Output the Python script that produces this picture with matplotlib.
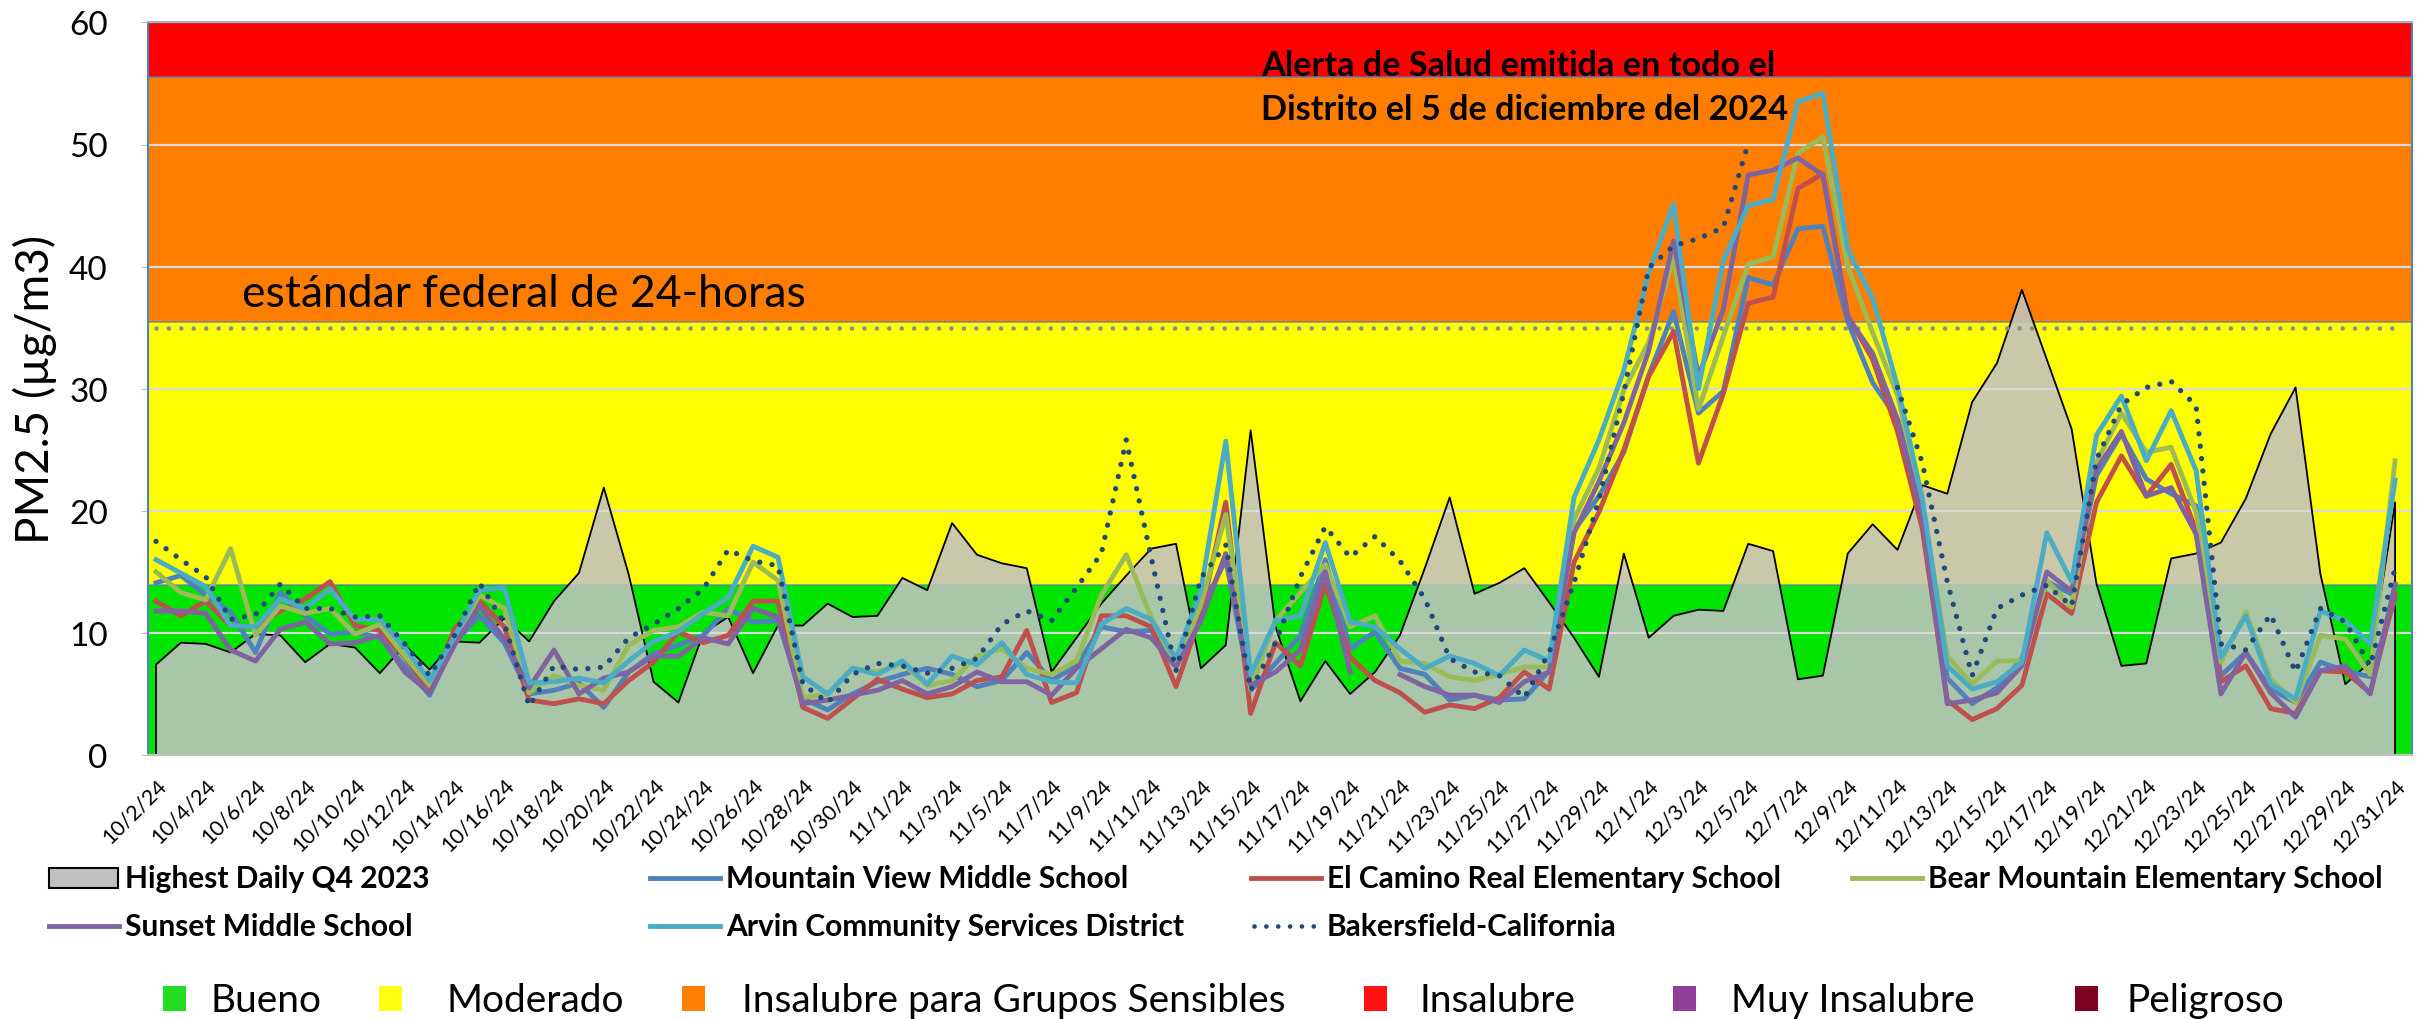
import numpy as np
import pandas as pd
import matplotlib
matplotlib.use("Agg")
import matplotlib.pyplot as plt
from matplotlib.lines import Line2D
from matplotlib.patches import Rectangle

plt.rcParams['font.family'] = ['Lato', 'DejaVu Sans']

# ---------------- data ----------------
dates = pd.date_range("2024-10-02", "2024-12-31", freq="D")
date_labels = [f"{d.month}/{d.day}/24" for d in dates]

highest_q4_2023 = [
    7.4, 9.2, 9.1, 8.4, 9.9, 9.8, 7.6, 9.1, 8.8, 6.7,
    9.0, 7.0, 9.3, 9.2, 11.2, 9.3, 12.6, 14.9, 21.9, 14.8,
    6.0, 4.3, 10.0, 11.3, 6.7, 10.6, 10.6, 12.4, 11.3, 11.4,
    14.5, 13.5, 19.0, 16.4, 15.7, 15.3, 6.8, 9.6, 12.4, 14.7,
    16.9, 17.3, 7.1, 9.0, 26.6, 10.5, 4.4, 7.7, 5.0, 6.8,
    9.8, 15.3, 21.1, 13.2, 14.1, 15.3, 12.5, 9.6, 6.4, 16.5,
    9.6, 11.4, 11.9, 11.8, 17.3, 16.7, 6.2, 6.5, 16.5, 18.9,
    16.8, 22.1, 21.4, 28.9, 32.1, 38.1, 32.4, 26.7, 14.0, 7.3,
    7.5, 16.1, 16.5, 17.4, 21.0, 26.3, 30.1, 14.8, 5.8, 7.6,
    20.7]

mountain_view = [
    14.1, 14.7, 13.1, 11.7, 8.4, 13.3, 11.4, 9.9, 10.1, 9.6,
    7.3, 4.9, 9.2, 11.4, 9.2, 5.0, 5.3, 5.9, 3.9, 6.8,
    8.3, 9.0, 9.8, 12.0, 10.9, 11.0, 4.6, 3.7, 5.0, 6.0,
    6.6, 7.1, 6.6, 5.6, 6.1, 8.4, 6.1, 7.3, 10.5, 10.1,
    10.2, 7.3, 11.8, 16.0, 5.3, 7.5, 9.8, 16.0, 8.7, 10.1,
    7.1, 6.6, 4.5, 4.9, 4.5, 4.6, 6.9, 18.4, 21.2, 24.8,
    31.1, 36.3, 28.0, 29.8, 39.1, 38.5, 43.1, 43.3, 35.5, 30.5,
    27.5, 20.0, 6.3, 4.2, 5.5, 7.9, 14.2, 13.2, 22.9, 26.3,
    22.6, 21.4, 20.4, 6.5, 8.4, 5.4, 4.3, 7.6, 6.9, 6.4,
    12.8]

el_camino_real = [
    12.6, 11.4, 12.6, 10.6, 10.5, 11.8, 12.8, 14.2, 10.6, 10.2,
    8.0, 5.3, 10.3, 12.6, 10.5, 4.5, 4.2, 4.6, 4.2, 6.1,
    7.6, 10.1, 9.2, 9.8, 12.6, 12.6, 3.9, 3.0, 4.6, 6.2,
    5.4, 4.7, 5.0, 6.1, 6.4, 10.2, 4.3, 5.1, 11.4, 11.4,
    10.5, 5.6, 11.5, 20.7, 3.4, 9.2, 7.3, 14.0, 8.0, 6.1,
    5.1, 3.5, 4.1, 3.8, 4.7, 6.8, 5.4, 15.8, 19.9, 25.0,
    31.0, 34.7, 23.9, 29.6, 37.0, 37.5, 46.4, 47.6, 36.0, 32.4,
    26.5, 18.5, 4.5, 2.9, 3.8, 5.7, 13.2, 11.6, 20.7, 24.5,
    21.2, 23.8, 18.4, 6.0, 7.3, 3.8, 3.4, 6.9, 6.8, 5.1,
    13.2]

bear_mountain = [
    15.0, 13.3, 12.7, 16.9, 9.8, 12.2, 11.6, 12.0, 9.9, 10.7,
    8.1, 5.7, 9.4, 13.1, 12.0, 5.1, 6.5, 5.7, 5.3, 9.0,
    10.2, 10.5, 11.7, 11.4, 15.8, 14.3, 4.7, 5.0, 7.1, 6.8,
    7.5, 5.7, 6.1, 8.1, 8.7, 7.1, 6.6, 7.7, 13.1, 16.4,
    11.3, 7.3, 12.3, 19.7, 5.4, 11.0, 13.3, 15.6, 10.5, 11.4,
    7.7, 7.5, 6.4, 6.1, 6.6, 7.2, 7.2, 19.3, 23.5, 29.9,
    33.8, 40.8, 28.3, 34.3, 40.2, 40.8, 49.3, 50.6, 40.0, 34.6,
    29.5, 20.5, 8.1, 5.8, 7.7, 7.7, 14.3, 12.1, 24.0, 28.0,
    24.8, 25.2, 19.9, 7.6, 11.7, 6.2, 4.3, 9.8, 9.5, 6.6,
    24.1]

sunset = [
    11.8, 11.8, 11.6, 8.6, 7.7, 10.3, 10.9, 9.1, 9.2, 9.8,
    6.8, 5.1, 9.0, 12.2, 9.5, 5.5, 8.6, 5.0, 6.3, 6.8,
    8.1, 8.1, 9.6, 9.1, 12.0, 11.3, 4.2, 4.5, 4.9, 5.3,
    6.1, 5.0, 5.6, 6.8, 6.0, 6.0, 4.9, 7.1, 8.7, 10.3,
    9.6, 7.2, 11.0, 16.5, 5.7, 6.8, 8.6, 15.0, 6.8, np.nan,
    6.6, 5.6, 4.9, 4.9, 4.3, 6.0, 6.8, 18.2, 22.4, 27.2,
    33.1, 42.1, 31.0, 36.5, 47.5, 47.9, 48.9, 47.5, 35.9, 32.9,
    27.5, 19.5, 4.2, 4.5, 5.1, 7.3, 15.0, 13.4, 23.4, 26.5,
    21.2, 21.9, 18.1, 5.0, 8.4, 5.1, 3.1, 6.9, 7.3, 5.0,
    14.0]

arvin = [
    16.0, 14.9, 13.8, 10.6, 10.5, 12.8, 12.0, 13.6, 11.1, 11.1,
    8.8, 6.1, 9.7, 13.5, 13.7, 5.9, 6.0, 6.3, 5.9, 7.7,
    9.3, 10.1, 11.6, 12.9, 17.1, 16.2, 6.4, 5.0, 7.1, 6.6,
    7.7, 5.8, 8.1, 7.4, 9.2, 6.6, 6.0, 5.9, 10.7, 12.0,
    11.1, 7.9, 13.5, 25.7, 6.6, 11.0, 11.4, 17.4, 10.9, 10.5,
    8.7, 7.1, 8.1, 7.5, 6.5, 8.6, 7.7, 21.1, 25.8, 31.5,
    39.5, 45.1, 30.0, 40.5, 45.0, 45.5, 53.5, 54.2, 41.4, 37.4,
    30.2, 21.0, 7.3, 5.4, 6.0, 7.6, 18.2, 14.2, 26.2, 29.4,
    24.1, 28.2, 23.3, 8.0, 11.4, 5.8, 4.6, 11.8, 11.0, 9.1,
    22.5]

bakersfield = [
    17.5, 16.0, 14.6, 11.1, 11.5, 14.0, 12.0, 12.0, 11.3, 11.4,
    9.1, 6.5, 9.8, 14.1, 10.8, 4.0, 7.3, 7.0, 7.2, 9.6,
    10.7, 12.0, 13.6, 16.8, 15.9, 15.5, 5.8, 4.3, 6.6, 7.5,
    7.3, 6.7, 7.1, 7.9, 10.7, 11.8, 11.0, 13.7, 16.5, 25.8,
    16.2, 6.9, 14.5, 17.2, 5.3, 9.2, 14.6, 18.7, 16.2, 17.9,
    15.9, 12.8, 7.9, 6.8, 6.5, 4.7, 8.4, 14.1, 20.9, 29.7,
    39.9, 41.7, 42.3, 43.2, 50.1, np.nan, np.nan, np.nan, np.nan, np.nan,
    30.1, 23.9, 14.2, 6.5, 12.0, 13.1, 13.9, 12.2, 24.2, 28.7,
    30.1, 30.6, 28.6, 9.1, 8.6, 11.5, 6.8, 12.0, 10.9, 7.3,
    15.3]

standard_24h = 35
band_edges = [0, 13.9, 35.5, 55.5, 60]
band_colors = ['#00E400', '#FFFF00', '#FF7E00', '#FF0000']

aqi_names = ['Bueno', 'Moderado', 'Insalubre para Grupos Sensibles',
             'Insalubre', 'Muy Insalubre', 'Peligroso']
aqi_colors = ['#22DD22', '#FFFF11', '#FF7E00', '#FF1111', '#8F3F97', '#7E0023']

series = [
    ('Mountain View Middle School', mountain_view, '#4F81BD'),
    ('El Camino Real Elementary School', el_camino_real, '#C0504D'),
    ('Bear Mountain Elementary School', bear_mountain, '#9BBB59'),
    ('Sunset Middle School', sunset, '#8064A2'),
    ('Arvin Community Services District', arvin, '#4BACC6'),
]

# ---------------- figure ----------------
W, H = 2425, 1020
fig = plt.figure(figsize=(W / 100, H / 100), dpi=100)


def fx(px):
    return px / W


def fy(py):
    return 1 - py / H


ax = fig.add_axes([fx(148), fy(756), (2412 - 148) / W, (756 - 23.4) / H])
x = np.arange(len(dates))

# AQI bands
for lo, hi, c in zip(band_edges[:-1], band_edges[1:], band_colors):
    ax.axhspan(lo, hi, color=c, zorder=0.1, lw=0)
for e in band_edges[1:-1]:
    ax.axhline(e, color='#4F81BD', lw=1.3, alpha=0.7, zorder=0.2)

ax.set_axisbelow('line')
ax.yaxis.grid(True, color='#D9D9D9', lw=1.6)

# highest daily area
ax.fill_between(x, 0, highest_q4_2023, facecolor=(0.76, 0.76, 0.76),
                alpha=0.88, lw=0, zorder=1)
ax.plot(np.r_[x[0], x, x[-1]], np.r_[0, highest_q4_2023, 0],
        color='black', lw=1.3, zorder=1.6)

# 24-h standard (grey dots)
ax.plot(x, [standard_24h] * len(x), color='#8C8C8C', lw=3.3,
        ls=(0, (0.01, 2.7)), dash_capstyle='round', zorder=1.7)

for name, vals, col in series:
    ax.plot(x, vals, color=col, lw=3.5, solid_joinstyle='round', zorder=3)
ax.plot(x, bakersfield, color='#1F497D', lw=3.8, ls=(0, (0.01, 2.35)),
        dash_capstyle='round', zorder=4)

ax.set_xlim(-0.32, len(x) - 1 + 0.68)
ax.set_ylim(0, 60)
ax.set_yticks(range(0, 61, 10))
ax.tick_params(axis='y', labelsize=24, length=5, color='#BFBFBF', pad=24)
ax.set_xticks(x[::2])
ax.set_xticklabels(date_labels[::2], rotation=45, ha='right', va='top',
                   rotation_mode='anchor', fontsize=15.5)
ax.tick_params(axis='x', which='major', length=0, pad=14)

for s in ['left', 'right']:
    ax.spines[s].set_color('#4F81BD')
    ax.spines[s].set_linewidth(1.5)
ax.spines['top'].set_color('#95B3D7')
ax.spines['top'].set_linewidth(1.5)
ax.spines['bottom'].set_color('#BFBFBF')
ax.spines['bottom'].set_linewidth(1.5)

ax.set_ylabel('PM2.5 (µg/m3)', fontsize=33, va='center', ha='center')
ax.yaxis.set_label_coords((35 - 148) / 2264, 0.5)

ax.text(3.46, 36.8, 'estándar federal de 24-horas', fontsize=32,
        va='baseline', ha='left', zorder=5)
ax.text(44.41, 55.7, 'Alerta de Salud emitida en todo el', fontsize=24.7,
        fontweight='bold', va='baseline', ha='left', zorder=5)
ax.text(44.41, 52.1, 'Distrito el 5 de diciembre del 2024', fontsize=24.7,
        fontweight='bold', va='baseline', ha='left', zorder=5)

# ---------------- series legend ----------------
leg_items = [
    ('area', 'Highest Daily Q4 2023', None, 49, 879),
    ('line', 'Mountain View Middle School', '#4F81BD', 650, 879),
    ('line', 'El Camino Real Elementary School', '#C0504D', 1251, 879),
    ('line', 'Bear Mountain Elementary School', '#9BBB59', 1852, 879),
    ('line', 'Sunset Middle School', '#8064A2', 49, 927),
    ('line', 'Arvin Community Services District', '#4BACC6', 650, 927),
    ('dots', 'Bakersfield-California', '#1F497D', 1251, 927),
]
for kind, lab, col, px, py in leg_items:
    if kind == 'area':
        fig.add_artist(Rectangle((fx(px), fy(py + 10)), fx(69), 20 / H,
                                 facecolor='#C0C0C0', edgecolor='black',
                                 lw=1.5, transform=fig.transFigure))
    elif kind == 'line':
        fig.add_artist(Line2D([fx(px), fx(px + 70)], [fy(py), fy(py)],
                              color=col, lw=3.5, transform=fig.transFigure))
    else:
        fig.add_artist(Line2D([fx(px + 3), fx(px + 70)], [fy(py), fy(py)],
                              color=col, lw=3.4, ls=(0, (0.01, 2.5)),
                              dash_capstyle='round', transform=fig.transFigure))
    fig.text(fx(px + 76), fy(py + 9), lab, fontsize=21.5, fontweight='bold',
             va='baseline', ha='left')

# ---------------- AQI legend ----------------
sq_x = [163, 379, 682, 1364, 1673, 2075]
tx_x = [211, 447, 742, 1419, 1731, 2126]
for name, col, sx, tx in zip(aqi_names, aqi_colors, sq_x, tx_x):
    fig.add_artist(Rectangle((fx(sx), fy(1012)), fx(23), 25 / H,
                             facecolor=col, edgecolor='none',
                             transform=fig.transFigure))
    fig.text(fx(tx), fy(1012), name, fontsize=28, va='baseline', ha='left')

fig.savefig('out.png', dpi=100)
